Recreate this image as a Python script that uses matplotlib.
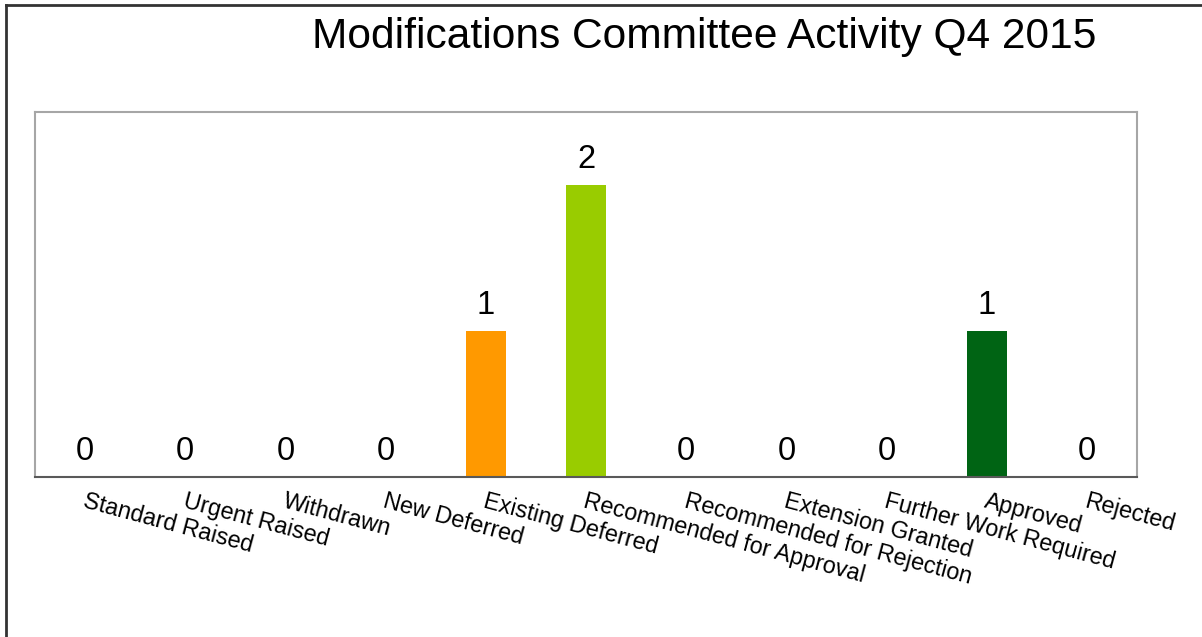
import matplotlib.pyplot as plt
from matplotlib.lines import Line2D

# Committee activity counts for the quarter
categories = ['Standard Raised', 'Urgent Raised', 'Withdrawn', 'New Deferred',
              'Existing Deferred', 'Recommended for Approval',
              'Recommended for Rejection', 'Extension Granted',
              'Further Work Required', 'Approved', 'Rejected']
counts = [0, 0, 0, 0, 1, 2, 0, 0, 0, 1, 0]
bar_colors = ['#FF9900', '#FF9900', '#FF9900', '#FF9900', '#FF9900', '#99CC00',
              '#99CC00', '#99CC00', '#99CC00', '#006414', '#006414']

plt.rcParams['font.family'] = ['Liberation Sans', 'DejaVu Sans']

fig = plt.figure(figsize=(12.02, 6.37), dpi=100)
ax = fig.add_axes([0.0291, 0.2512, 0.9168, 0.5730])

x = list(range(len(categories)))
ax.bar(x, counts, width=0.4, color=bar_colors)

for xi, c in zip(x, counts):
    ax.annotate(str(c), (xi, c), xytext=(0, 12), textcoords='offset points',
                ha='center', va='baseline', fontsize=23.5)

ax.set_xlim(-0.5, len(categories) - 0.5)
ax.set_ylim(0, 2.5)
ax.set_yticks([])
ax.set_xticks(x)
ax.set_xticklabels([])
ax.tick_params(axis='x', length=0)

# category names, slanted and hanging from each bar position
for xi, name in zip(x, categories):
    ax.annotate(name, (xi, 0), xytext=(1, -9), textcoords='offset points',
                ha='left', va='top', rotation=-15, rotation_mode='anchor',
                fontsize=16.8)

for side in ['top', 'left', 'right']:
    ax.spines[side].set_color('#A6A6A6')
    ax.spines[side].set_linewidth(1.5)
ax.spines['bottom'].set_color('#595959')
ax.spines['bottom'].set_linewidth(1.5)

fig.text(0.5857, 0.9246, 'Modifications Committee Activity Q4 2015',
         ha='center', va='baseline', fontsize=30.6)

# outer chart border
fig.add_artist(Line2D([0.005, 0.005], [0, 0.992], transform=fig.transFigure,
                      color='#333333', linewidth=2))
fig.add_artist(Line2D([0.005, 1], [0.992, 0.992], transform=fig.transFigure,
                      color='#333333', linewidth=2))

fig.savefig('out.png', dpi=100)
